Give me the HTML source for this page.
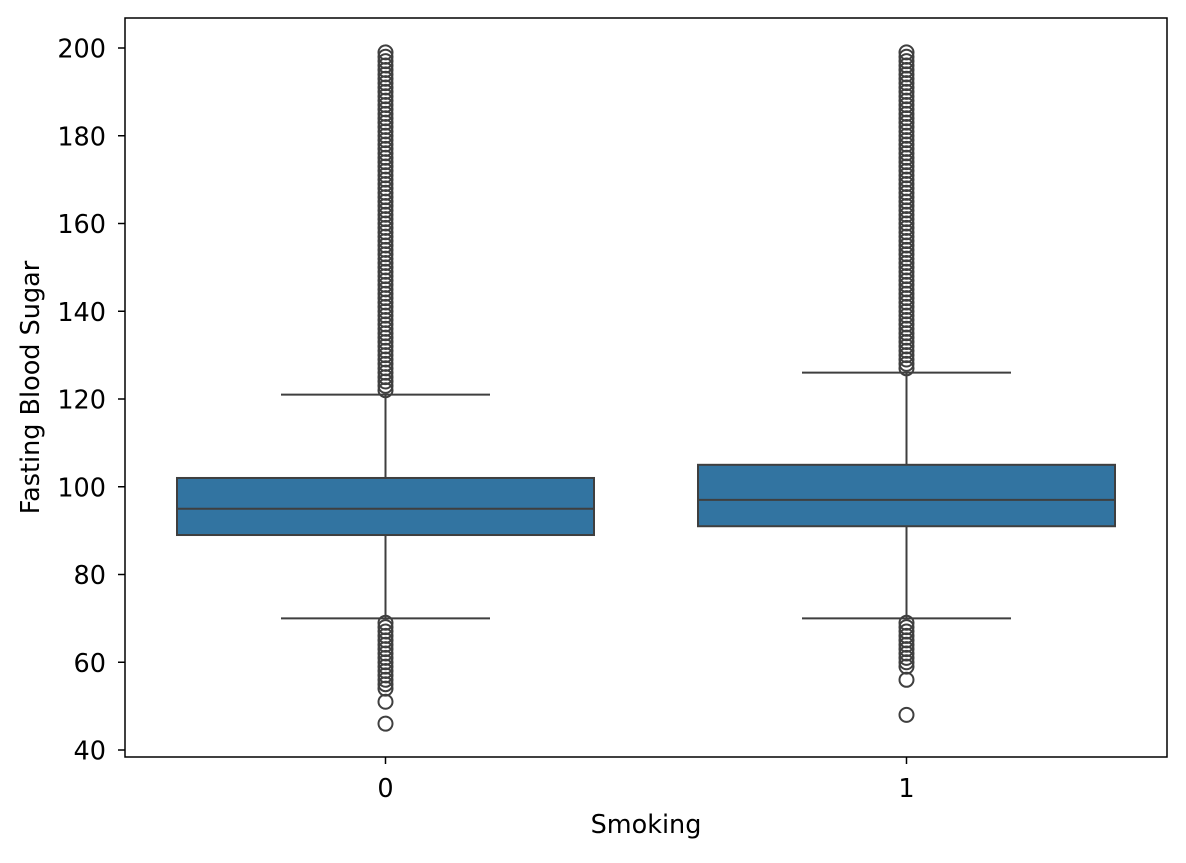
<!DOCTYPE html>
<html><head><meta charset="utf-8"><style>
body{margin:0;background:#fff;}
text{font-family:"DejaVu Sans","Liberation Sans",sans-serif;fill:#000;}
</style></head><body>
<svg id="chart" width="1186" height="858" xmlns="http://www.w3.org/2000/svg">
<g id="plot"></g>
</svg>
<script>
const categories = ["0", "1"];
const q1 = [89, 91];
const medians = [95, 97];
const q3 = [102, 105];
const whiskerLow = [70, 70];
const whiskerHigh = [121, 126];
const outliers0 = [122,123,124,125,126,127,128,129,130,131,132,133,134,135,136,137,138,139,140,141,142,143,144,145,146,147,148,149,150,151,152,153,154,155,156,157,158,159,160,161,162,163,164,165,166,167,168,169,170,171,172,173,174,175,176,177,178,179,180,181,182,183,184,185,186,187,188,189,190,191,192,193,194,195,196,197,198,199,69,68,67,66,65,64,63,62,61,60,59,58,57,56,55,54,51,46];
const outliers1 = [127,128,129,130,131,132,133,134,135,136,137,138,139,140,141,142,143,144,145,146,147,148,149,150,151,152,153,154,155,156,157,158,159,160,161,162,163,164,165,166,167,168,169,170,171,172,173,174,175,176,177,178,179,180,181,182,183,184,185,186,187,188,189,190,191,192,193,194,195,196,197,198,199,69,68,67,66,65,64,63,62,61,60,59,56,48];
const outliers = [outliers0, outliers1];
const yTicks = [40, 60, 80, 100, 120, 140, 160, 180, 200];

const NS = "http://www.w3.org/2000/svg";
const svg = document.getElementById("chart");
const g = document.getElementById("plot");
const L = 125, R = 1167, T = 18, B = 757;
const y = v => 48 + (200 - v) * (702 / 160);
const xc = i => L + (R - L) * (i + 0.5) / categories.length;
const boxW = 417, capW = 209;
function mk(tag, attrs, parent) {
  const e = document.createElementNS(NS, tag);
  for (const k in attrs) e.setAttribute(k, attrs[k]);
  (parent || g).appendChild(e);
  return e;
}
categories.forEach((c, i) => {
  const cx = xc(i);
  let e;
  e = mk("line", {x1: cx, x2: cx, y1: y(q3[i]), y2: y(whiskerHigh[i]), stroke: "#3f3f3f", "stroke-width": 2});
  
  
  e = mk("line", {x1: cx, x2: cx, y1: y(q1[i]), y2: y(whiskerLow[i]), stroke: "#3f3f3f", "stroke-width": 2});
  
  
  e = mk("line", {x1: cx - capW/2, x2: cx + capW/2, y1: y(whiskerHigh[i]), y2: y(whiskerHigh[i]), stroke: "#3f3f3f", "stroke-width": 2});
  
  
  e = mk("line", {x1: cx - capW/2, x2: cx + capW/2, y1: y(whiskerLow[i]), y2: y(whiskerLow[i]), stroke: "#3f3f3f", "stroke-width": 2});
  
  
  e = mk("rect", {x: cx - boxW/2, y: y(q3[i]), width: boxW, height: y(q1[i]) - y(q3[i]), fill: "#3274a1", stroke: "#3f3f3f", "stroke-width": 2});
  
  
  e = mk("line", {x1: cx - boxW/2, x2: cx + boxW/2, y1: y(medians[i]), y2: y(medians[i]), stroke: "#3f3f3f", "stroke-width": 2});
  
  
  outliers[i].forEach(v => {
    const o = mk("circle", {cx: cx, cy: y(v), r: 7, fill: "none", stroke: "#3f3f3f", "stroke-width": 2});
    
    
  });
  e = mk("line", {x1: cx, x2: cx, y1: B, y2: B + 7, stroke: "#000", "stroke-width": 1.5}, svg);
  
  
  e = mk("text", {x: cx, y: 797, "text-anchor": "middle", "font-size": 25.5}, svg);
  e.textContent = c;
  
  
});
yTicks.forEach(v => {
  let e = mk("line", {x1: L - 7, x2: L, y1: y(v), y2: y(v), stroke: "#000", "stroke-width": 1.5}, svg);
  
  
  e = mk("text", {x: 106, y: y(v) + 9.5, "text-anchor": "end", "font-size": 25.5}, svg);
  e.textContent = v;
  
  
});
let f = mk("rect", {x: L, y: T, width: R - L, height: B - T, fill: "none", stroke: "#000", "stroke-width": 1.5}, svg);


let xl = mk("text", {x: (L + R) / 2, y: 833, "text-anchor": "middle", "font-size": 25.5}, svg);
xl.textContent = "Smoking";


let yl = mk("text", {x: 0, y: 0, "text-anchor": "middle", "font-size": 25.5, transform: "translate(39," + ((T + B) / 2) + ") rotate(-90)"}, svg);
yl.textContent = "Fasting Blood Sugar";


</script>
</body></html>
